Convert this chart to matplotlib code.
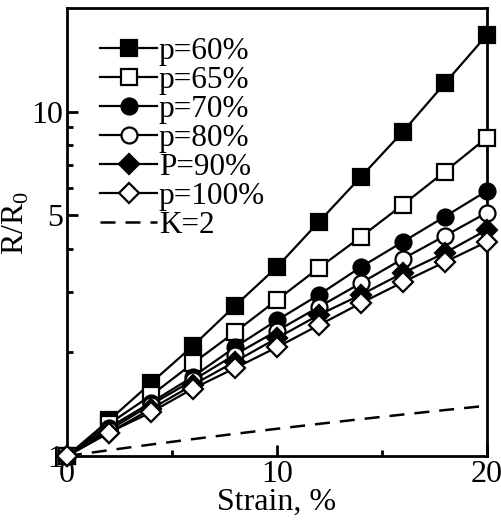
#R/R0 vs strain for different p, log y axis
import numpy as np
import matplotlib
matplotlib.use("Agg")
import matplotlib.pyplot as plt
from matplotlib.ticker import FixedLocator, NullFormatter

plt.rcParams['font.family'] = ['Liberation Serif', 'DejaVu Serif']
plt.rcParams['mathtext.fontset'] = 'custom'
plt.rcParams['mathtext.rm'] = 'Liberation Serif'

#data
strain = [0, 2, 4, 6, 8, 10, 12, 14, 16, 18, 20]
p60 = [1.0, 1.27, 1.63, 2.09, 2.73, 3.54, 4.79, 6.47, 8.75, 12.1, 16.7]
p65 = [1.0, 1.24, 1.50, 1.86, 2.29, 2.84, 3.52, 4.33, 5.37, 6.70, 8.41]
p70 = [1.0, 1.21, 1.43, 1.70, 2.07, 2.48, 2.94, 3.54, 4.19, 4.96, 5.89]
p80 = [1.0, 1.19, 1.41, 1.66, 1.97, 2.31, 2.71, 3.18, 3.74, 4.36, 5.09]
p90 = [1.0, 1.17, 1.37, 1.61, 1.88, 2.20, 2.57, 2.94, 3.40, 3.89, 4.54]
p100 = [1.0, 1.17, 1.34, 1.57, 1.80, 2.07, 2.40, 2.78, 3.20, 3.66, 4.19]
k2 = [1.00, 1.04, 1.08, 1.12, 1.16, 1.20, 1.24, 1.28, 1.32, 1.36, 1.40]

series = [
    (p60, "s", "k", "p=60%"),
    (p65, "s", "w", "p=65%"),
    (p70, "o", "k", "p=70%"),
    (p80, "o", "w", "p=80%"),
    (p90, "D", "k", "P=90%"),
    (p100, "D", "w", "p=100%"),
]

fig = plt.figure(figsize=(5.02, 5.20), dpi=100)
ax = fig.add_axes([0.1335, 0.123, 0.8365, 0.8616])

for vals, mk, fc, lab in series:
    ms = 11.5 if mk != "D" else 10
    ax.plot(strain, vals, color="k", lw=1.6, marker=mk, ms=ms,
            mfc=fc, mec="k", mew=1.6, label=lab, clip_on=False, zorder=3)
ax.plot(strain, k2, color="k", lw=1.8, ls=(0, (6, 4)), label="K=2")

ax.set_yscale("log")
ax.set_xlim(0, 20)
ax.set_ylim(1, 20)
ax.yaxis.set_major_locator(FixedLocator([1, 5, 10]))
ax.yaxis.set_major_formatter(matplotlib.ticker.FixedFormatter(["1", "5", "10"]))
ax.yaxis.set_minor_locator(FixedLocator([2, 3, 4, 6, 7, 8, 9]))
ax.yaxis.set_minor_formatter(NullFormatter())
ax.set_xticks([0, 10, 20])
ax.set_xticks([5, 15], minor=True)

for s in ax.spines.values():
    s.set_linewidth(2)
ax.tick_params(which="both", direction="in", width=2, labelsize=23, pad=3)
ax.tick_params(which="major", length=8)
ax.tick_params(which="minor", length=4)

ax.set_xlabel("Strain, %", fontsize=23, labelpad=-1)
ax.set_ylabel(r"R/R$_\mathregular{0}$", fontsize=23)
ax.yaxis.set_label_coords(-0.085, 0.52)

ax.legend(loc="upper left", bbox_to_anchor=(0.079, 0.935), frameon=False,
          fontsize=22.5, handlelength=1.82, handletextpad=0.05,
          labelspacing=0.0, borderpad=0, borderaxespad=0)

plt.savefig("out.png", dpi=100)
